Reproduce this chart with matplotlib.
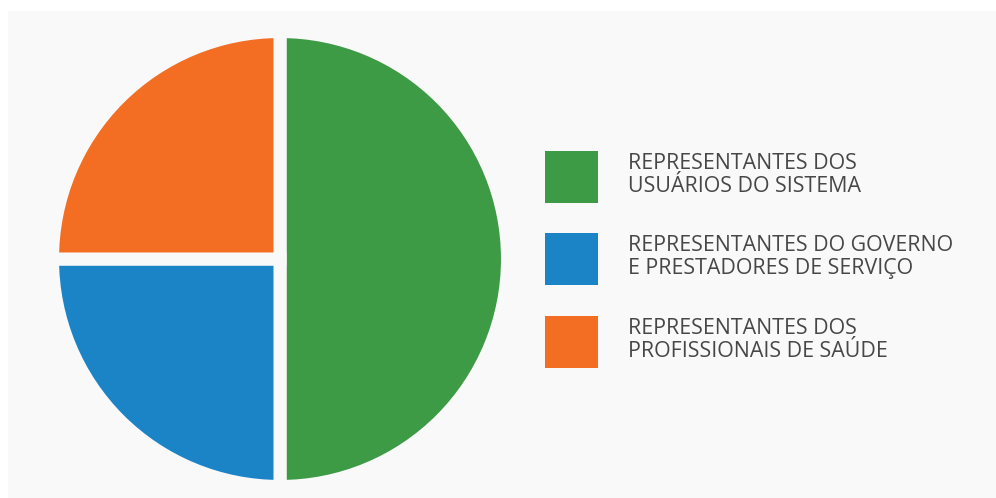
import matplotlib
matplotlib.use('Agg')
import matplotlib.pyplot as plt
from matplotlib.patches import Rectangle

# Composition of the council (share of seats)
labels = ['REPRESENTANTES DOS\nUSUÁRIOS DO SISTEMA',
          'REPRESENTANTES DO GOVERNO\nE PRESTADORES DE SERVIÇO',
          'REPRESENTANTES DOS\nPROFISSIONAIS DE SAÚDE']
shares = [50, 25, 25]
colors = ['#3d9a45', '#1a84c7', '#f36e22']

bg = '#f9f9f9'
plt.rcParams['font.family'] = ['Open Sans', 'DejaVu Sans']

fig = plt.figure(figsize=(9.96, 4.98), dpi=100, facecolor='white')
fig.patches.append(Rectangle((8 / 996, 0), 988 / 996, 487 / 498,
                             transform=fig.transFigure, facecolor=bg,
                             edgecolor='none', zorder=-10))

# pie axes (pixel-based placement)
ax = fig.add_axes([52.5 / 996, 11.5 / 498, 455 / 996, 455 / 498])
ax.set_facecolor('none')
wedges, _ = ax.pie(shares, colors=colors, startangle=90, counterclock=False,
                   radius=1, wedgeprops=dict(edgecolor=bg, linewidth=9.4))
ax.set_xlim(-1, 1)
ax.set_ylim(-1, 1)
ax.set_aspect('equal')
ax.axis('off')

fs = 15.4
leg = fig.legend(wedges, labels, loc='upper left',
                 bbox_to_anchor=(545 / 996, 1 - 151 / 498),
                 frameon=False, fontsize=fs, handlelength=2.48,
                 handleheight=3.36, handletextpad=1.4, labelspacing=1.42,
                 borderpad=0, borderaxespad=0, labelcolor='#474747')
for h in leg.legend_handles:
    h.set_edgecolor('none')
for t in leg.get_texts():
    t.set_linespacing(1.12)

fig.savefig('out.png', dpi=100, facecolor='white')
